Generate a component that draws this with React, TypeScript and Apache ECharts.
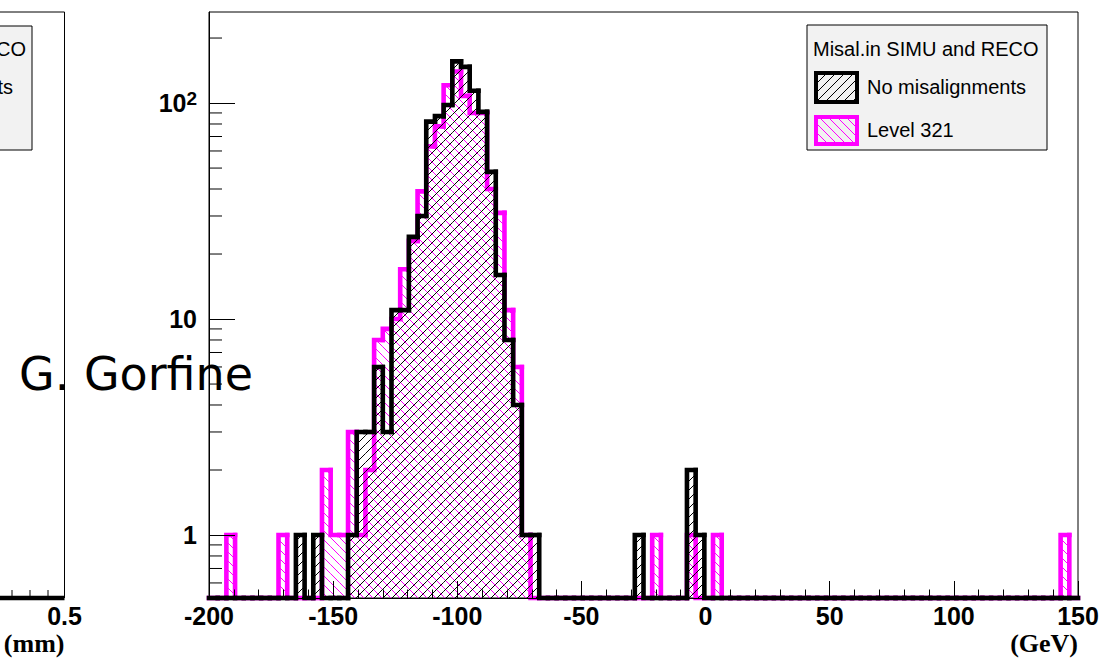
import React, { useEffect, useRef } from 'react';
import * as echarts from 'echarts';

// ---- binning (ROOT-style histogram, 100 bins from -200 to 150 GeV) ----
const X_MIN = -200;
const X_MAX = 150;
const BIN_WIDTH = 3.5;
const Y_MIN = 0.511;
const Y_MAX = 264;

// counts per bin, "No misalignments" (black)
const noMisalCounts = [
  0, 0, 0, 0, 0, 0, 0, 0, 0, 0,
  1, 0, 1, 0, 0, 0, 1, 3, 3, 6,
  3, 11, 11, 24, 30, 82, 87, 98, 156, 147,
  114, 91, 48, 16, 8, 4, 1, 1, 0, 0,
  0, 0, 0, 0, 0, 0, 0, 0, 0, 1,
  0, 0, 0, 0, 0, 2, 1, 0, 0, 0,
  0, 0, 0, 0, 0, 0, 0, 0, 0, 0,
  0, 0, 0, 0, 0, 0, 0, 0, 0, 0,
  0, 0, 0, 0, 0, 0, 0, 0, 0, 0,
  0, 0, 0, 0, 0, 0, 0, 0, 0, 0,
];

// counts per bin, "Level 321" (magenta)
const level321Counts = [
  0, 0, 1, 0, 0, 0, 0, 0, 1, 0,
  0, 0, 0, 2, 1, 1, 3, 1, 2, 8,
  9, 10, 17, 23, 39, 63, 78, 121, 140, 108,
  90, 90, 40, 31, 11, 6, 1, 0, 0, 0,
  0, 0, 0, 0, 0, 0, 0, 0, 0, 0,
  0, 1, 0, 0, 0, 1, 0, 0, 1, 0,
  0, 0, 0, 0, 0, 0, 0, 0, 0, 0,
  0, 0, 0, 0, 0, 0, 0, 0, 0, 0,
  0, 0, 0, 0, 0, 0, 0, 0, 0, 0,
  0, 0, 0, 0, 0, 0, 0, 0, 1, 0,
];

// log-axis minor tick positions
const yMinorTicks = [0.6, 0.7, 0.8, 0.9, 2, 3, 4, 5, 6, 7, 8, 9, 20, 30, 40, 50, 60, 70, 80, 90, 200];

const legendTitle = 'Misal.in SIMU and RECO';
const legendNames = ['No misalignments', 'Level 321'];
const xUnit = '(GeV)';
const leftUnit = '(mm)';
const leftLastTick = '0.5';
const author = 'G. Gorfine';

const BLACK = '#000000';
const MAGENTA = '#ff00ff';
const SANS = "'Liberation Sans', Arial, Helvetica, sans-serif";
const SERIF = "'Liberation Serif', 'Times New Roman', serif";

function makeHatch(color: string, dir: '/' | '\\', size = 9) {
  const c = document.createElement('canvas');
  c.width = size;
  c.height = size;
  const g = c.getContext('2d')!;
  g.strokeStyle = color;
  g.lineWidth = 1;
  g.beginPath();
  if (dir === '/') {
    g.moveTo(0, size); g.lineTo(size, 0);
    g.moveTo(-2, 2); g.lineTo(2, -2);
    g.moveTo(size - 2, size + 2); g.lineTo(size + 2, size - 2);
  } else {
    g.moveTo(0, 0); g.lineTo(size, size);
    g.moveTo(size - 2, -2); g.lineTo(size + 2, 2);
    g.moveTo(-2, size - 2); g.lineTo(2, size + 2);
  }
  g.stroke();
  return { image: c, repeat: 'repeat', imageWidth: size, imageHeight: size } as any;
}

function binRows(counts: number[]) {
  return counts.map((c, i) => [
    X_MIN + i * BIN_WIDTH,
    X_MIN + (i + 1) * BIN_WIDTH,
    c,
    i > 0 ? counts[i - 1] : 0,
  ]);
}

function histRender(color: string, pattern: any, lastIndex: number) {
  return (params: any, api: any) => {
    const lo = api.value(0);
    const hi = api.value(1);
    const c = api.value(2);
    const prev = api.value(3);
    const yc = c > 0 ? c : Y_MIN;
    const yp = prev > 0 ? prev : Y_MIN;
    const pPrev = api.coord([lo, yp]);
    const pLo = api.coord([lo, yc]);
    const pHi = api.coord([hi, yc]);
    const children: any[] = [];
    if (c > 0) {
      const pBase = api.coord([hi, Y_MIN]);
      children.push({
        type: 'rect',
        z2: 0,
        shape: { x: pLo[0], y: pLo[1], width: pBase[0] - pLo[0], height: pBase[1] - pLo[1] },
        style: { fill: pattern, stroke: null },
      });
    }
    const pts = [pPrev, pLo, pHi];
    if (params.dataIndex === lastIndex) pts.push(api.coord([hi, Y_MIN]));
    children.push({
      type: 'polyline',
      z2: 1,
      shape: { points: pts },
      style: { stroke: color, lineWidth: 4.6, fill: null, lineCap: 'square', lineJoin: 'miter' },
    });
    return { type: 'group', children };
  };
}

export default function App() {
  const ref = useRef<HTMLDivElement>(null);

  useEffect(() => {
    const el = ref.current!;
    const chart = echarts.init(el, null, { renderer: 'svg' });
    const blackHatch = makeHatch(BLACK, '/');
    const magentaHatch = makeHatch(MAGENTA, '\\');

    const option: any = {
      animation: false,
      backgroundColor: '#ffffff',
      textStyle: { fontFamily: SANS },
      grid: {
        left: 209,
        top: 12,
        width: 869,
        height: 586,
        show: true,
        borderColor: BLACK,
        borderWidth: 1,
        backgroundColor: '#ffffff',
        containLabel: false,
        outerBoundsMode: 'none',
      },
      xAxis: {
        type: 'value',
        min: X_MIN,
        max: X_MAX,
        interval: 50,
        z: 10,
        axisLine: { show: true, onZero: false, lineStyle: { color: BLACK, width: 1 } },
        axisTick: { show: true, inside: true, length: 17, lineStyle: { color: BLACK, width: 1 } },
        minorTick: { show: true, splitNumber: 5, length: 8.5, lineStyle: { color: BLACK, width: 1 } },
        splitLine: { show: false },
        axisLabel: {
          color: BLACK,
          fontSize: 25,
          fontWeight: 'bold',
          fontFamily: SANS,
          margin: 5,
          showMinLabel: true,
          showMaxLabel: true,
          hideOverlap: false,
        },
      },
      yAxis: {
        type: 'log',
        logBase: 10,
        min: Y_MIN,
        max: Y_MAX,
        z: 10,
        axisLine: { show: true, onZero: false, lineStyle: { color: BLACK, width: 1 } },
        axisTick: { show: true, inside: true, length: 26, lineStyle: { color: BLACK, width: 1 } },
        splitLine: { show: false },
        axisLabel: {
          showMinLabel: false,
          showMaxLabel: false,
          color: BLACK,
          fontSize: 25,
          fontWeight: 'bold',
          fontFamily: SANS,
          margin: 12,
          formatter: (v: number) => {
            const p = Math.round(Math.log10(v));
            if (p <= 1) return String(Math.round(v));
            return '{b|10}{sup|' + p + '}';
          },
          rich: {
            b: { fontSize: 25, fontWeight: 'bold', fontFamily: SANS, color: BLACK, lineHeight: 28 },
            sup: {
              fontSize: 19,
              fontWeight: 'bold',
              fontFamily: SANS,
              color: BLACK,
              lineHeight: 19,
              verticalAlign: 'top',
            },
          },
        },
      },
      series: [
        {
          name: legendNames[1],
          type: 'custom',
          coordinateSystem: 'cartesian2d',
          z: 2,
          silent: true,
          encode: { x: [0, 1], y: 2 },
          data: binRows(level321Counts),
          renderItem: histRender(MAGENTA, magentaHatch, level321Counts.length - 1),
        },
        {
          name: legendNames[0],
          type: 'custom',
          coordinateSystem: 'cartesian2d',
          z: 3,
          silent: true,
          encode: { x: [0, 1], y: 2 },
          data: binRows(noMisalCounts),
          renderItem: histRender(BLACK, blackHatch, noMisalCounts.length - 1),
        },
        {
          name: 'minor ticks',
          type: 'custom',
          coordinateSystem: 'cartesian2d',
          z: 11,
          silent: true,
          encode: { x: 0, y: 1 },
          data: yMinorTicks.map((v) => [X_MIN, v]),
          renderItem: (_p: any, api: any) => {
            const pt = api.coord([api.value(0), api.value(1)]);
            return {
              type: 'line',
              shape: { x1: pt[0], y1: pt[1], x2: pt[0] + 13, y2: pt[1] },
              style: { stroke: BLACK, lineWidth: 1 },
            };
          },
        },
      ],
      graphic: [
        // x-axis title of the main pad, right-aligned at the axis end
        {
          type: 'text', z: 50, x: 1078, y: 643,
          style: { text: xUnit, fill: BLACK, font: `bold 26px ${SERIF}`, align: 'right', verticalAlign: 'middle' },
        },
        // partial neighbouring pad on the left
        { type: 'line', z: 50, shape: { x1: 0, y1: 12, x2: 64.5, y2: 12 }, style: { stroke: BLACK, lineWidth: 1 } },
        { type: 'line', z: 50, shape: { x1: 64.5, y1: 12, x2: 64.5, y2: 598 }, style: { stroke: BLACK, lineWidth: 1 } },
        { type: 'rect', z: 50, shape: { x: 0, y: 595.7, width: 64.5, height: 4.6 }, style: { fill: BLACK } },
        { type: 'line', z: 50, shape: { x1: 12, y1: 598, x2: 12, y2: 590 }, style: { stroke: BLACK, lineWidth: 1 } },
        { type: 'line', z: 50, shape: { x1: 30, y1: 598, x2: 30, y2: 590 }, style: { stroke: BLACK, lineWidth: 1 } },
        { type: 'line', z: 50, shape: { x1: 48, y1: 598, x2: 48, y2: 590 }, style: { stroke: BLACK, lineWidth: 1 } },
        {
          type: 'text', z: 50, x: 64.5, y: 603,
          style: { text: leftLastTick, fill: BLACK, font: `bold 25px ${SANS}`, align: 'center', verticalAlign: 'top' },
        },
        {
          type: 'text', z: 50, x: 64.5, y: 643,
          style: { text: leftUnit, fill: BLACK, font: `bold 26px ${SERIF}`, align: 'right', verticalAlign: 'middle' },
        },
        {
          type: 'rect', z: 50, shape: { x: -210, y: 26, width: 242, height: 124 },
          style: { fill: '#f2f2f2', stroke: BLACK, lineWidth: 1 },
        },
        {
          type: 'text', z: 51, x: 26, y: 49,
          style: { text: legendTitle, fill: BLACK, font: `20px ${SANS}`, align: 'right', verticalAlign: 'middle' },
        },
        {
          type: 'text', z: 51, x: 13, y: 87,
          style: { text: legendNames[0], fill: BLACK, font: `20px ${SANS}`, align: 'right', verticalAlign: 'middle' },
        },
        // legend of the main pad
        {
          type: 'rect', z: 50, shape: { x: 807, y: 25, width: 240, height: 125 },
          style: { fill: '#f2f2f2', stroke: BLACK, lineWidth: 1 },
        },
        {
          type: 'text', z: 51, x: 813, y: 49,
          style: { text: legendTitle, fill: BLACK, font: `20px ${SANS}`, align: 'left', verticalAlign: 'middle' },
        },
        {
          type: 'rect', z: 51, shape: { x: 816, y: 73, width: 41, height: 29 },
          style: { fill: blackHatch, stroke: BLACK, lineWidth: 4 },
        },
        {
          type: 'text', z: 51, x: 867, y: 87,
          style: { text: legendNames[0], fill: BLACK, font: `20px ${SANS}`, align: 'left', verticalAlign: 'middle' },
        },
        {
          type: 'rect', z: 51, shape: { x: 816, y: 117, width: 41, height: 27 },
          style: { fill: magentaHatch, stroke: MAGENTA, lineWidth: 4 },
        },
        {
          type: 'text', z: 51, x: 867, y: 130,
          style: { text: legendNames[1], fill: BLACK, font: `20px ${SANS}`, align: 'left', verticalAlign: 'middle' },
        },
        // overlay annotation
        {
          type: 'text', z: 100, x: 19, y: 374,
          style: { text: author, fill: BLACK, font: `46px 'DejaVu Sans', sans-serif`, align: 'left', verticalAlign: 'middle' },
        },
      ],
    };

    chart.setOption(option);
    return () => chart.dispose();
  }, []);

  return (
    <div
      ref={ref}
      style={{ position: 'fixed', left: 0, top: 0, width: 1114, height: 659, background: '#ffffff' }}
    />
  );
}
